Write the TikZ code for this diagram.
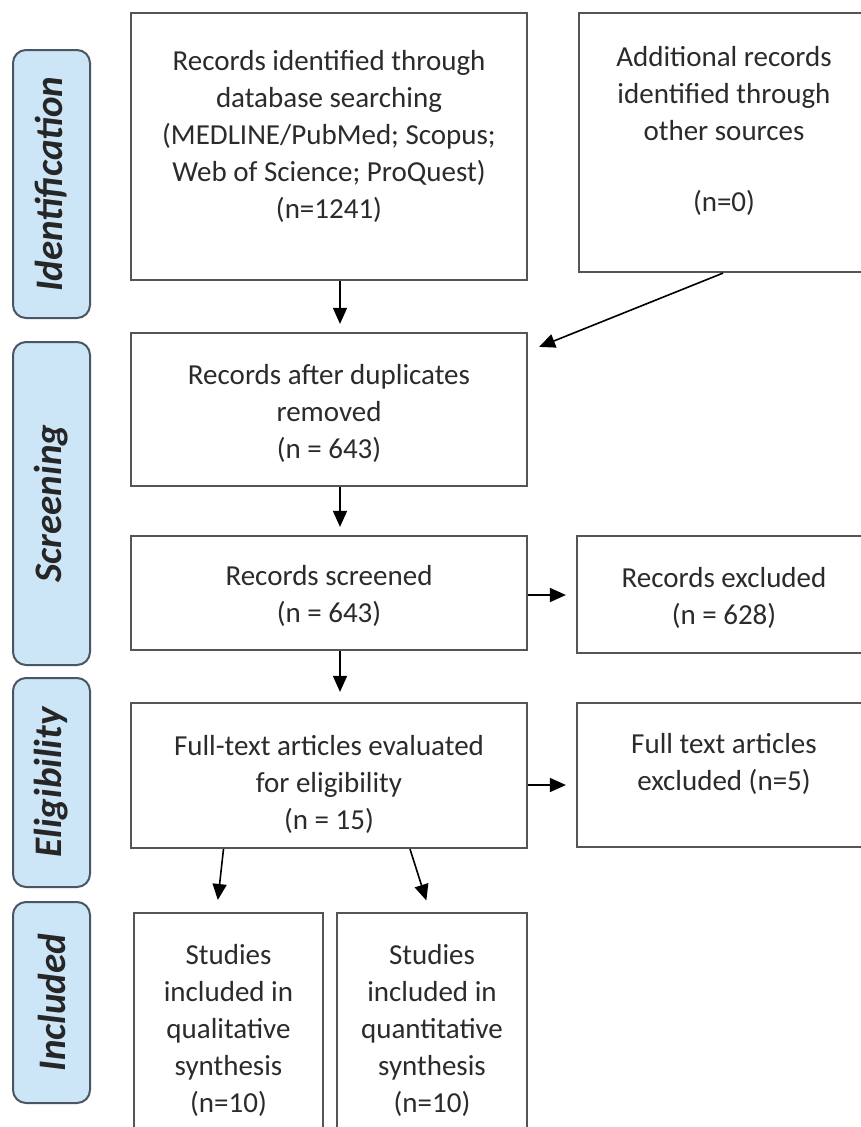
\documentclass[tikz,border=0pt]{standalone}
\usepackage{fontspec}
\setmainfont{Carlito}
\usetikzlibrary{arrows.meta}

\definecolor{boxgray}{HTML}{555555}
\definecolor{txtgray}{HTML}{2B2B2B}
\definecolor{phasefill}{HTML}{CDE6F7}
\definecolor{phaseline}{HTML}{4A5663}

\tikzset{
  box/.style={draw=boxgray, line width=2.2pt, rectangle, inner sep=0pt},
  txt/.style={align=center, text=txtgray, inner sep=0pt,
              font=\fontsize{29}{37}\selectfont},
  phase/.style={draw=phaseline, fill=phasefill, line width=2pt,
                rounded corners=13pt, inner sep=0pt, minimum width=77pt},
  phasetxt/.style={rotate=90, text=black!85,
                   font=\fontsize{39}{44}\selectfont\bfseries\itshape},
  arr/.style={-{Triangle[length=16pt,width=14pt]}, line width=1.6pt, black}
}

\begin{document}
\begin{tikzpicture}  % ------ PRISMA flow -------------------
      [x=1pt,y=-1pt]

    \clip (0,0) rectangle (861,1127);
    \fill[white] (0,0) rectangle (861,1127);

    % phases, left column
    \node[phase, minimum height=268pt] (Pid) at (51.5,184) {};
    \node[phase, minimum height=323pt] (Pscr) at (51.5,503.5) {};
    \node[phase, minimum height=209pt] (Pel) at (51.5,782.5) {};
    \node[phase, minimum height=201pt] (Pin) at (51.5,1002.5) {};
    \node[phasetxt] (Tid) at (Pid) {Identification};
    \node[phasetxt] (Tscr) at (Pscr) {Screening};
    \node[phasetxt] (Tel) at (Pel) {Eligibility};
    \node[phasetxt] (Tin) at (Pin) {Included};

    % boxes
    \node[box, minimum width=396pt, minimum height=267pt] (Rdb) at (329,146.5) {};
    \node[box, minimum width=311pt, minimum height=259pt] (Rot) at (734.5,142.5) {};
    \node[box, minimum width=396pt, minimum height=153pt] (Rdup) at (329,409.5) {};
    \node[box, minimum width=396pt, minimum height=114pt] (Rscr) at (329,593) {};
    \node[box, minimum width=313pt, minimum height=117pt] (Rexc) at (733.5,594.5) {};
    \node[box, minimum width=396pt, minimum height=145pt] (Rft) at (329,775.5) {};
    \node[box, minimum width=313pt, minimum height=144pt] (Rftx) at (733.5,775) {};
    \node[box, minimum width=189pt, minimum height=237pt] (Squal) at (228.5,1031.5) {};
    \node[box, minimum width=190pt, minimum height=237pt] (Squan) at (432,1031.5) {};

    % texts
    \node[txt] (Tdb) at (329,136) {Records identified through\\database searching\\(MEDLINE/PubMed; Scopus;\\Web of Science; ProQuest)\\(n=1241)};
    \node[txt] (Tot) at (724,131) {Additional records\\identified through\\other sources\\[34pt](n=0)};
    \node[txt] (Tdup) at (329,413) {Records after duplicates\\removed\\(n = 643)};
    \node[txt] (Tscr2) at (329,596) {Records screened\\(n = 643)};
    \node[txt] (Texc) at (724,598) {Records excluded\\(n = 628)};
    \node[txt] (Tft) at (329,784) {Full-text articles evaluated\\for eligibility\\(n = 15)};
    \node[txt] (Tftx) at (724,764) {Full text articles\\excluded (n=5)};
    \node[txt] (Tqual) at (228.5,1030) {Studies\\included in\\qualitative\\synthesis\\(n=10)};
    \node[txt] (Tquan) at (432,1030) {Studies\\included in\\quantitative\\synthesis\\(n=10)};

    % arrows
    \draw[arr, shorten >=8pt] ([xshift=11pt]Rdb.south) -- ([xshift=11pt]Rdup.north);
    \draw[arr] ([xshift=-11.5pt]Rot.south) -- ([xshift=11pt,yshift=-15pt]Rdup.north east);
    \draw[arr, shorten >=8pt] ([xshift=11pt]Rdup.south) -- ([xshift=11pt]Rscr.north);
    \draw[arr, shorten >=10pt] ([yshift=-2pt]Rscr.east) -- ([yshift=-2pt]Rscr.east -| Rexc.west);
    \draw[arr, shorten >=10pt] ([xshift=11pt]Rscr.south) -- ([xshift=11pt]Rft.north);
    \draw[arr, shorten >=10pt] ([yshift=-9.5pt]Rft.east) -- ([yshift=-9.5pt]Rft.east -| Rftx.west);
    \draw[arr, shorten >=12pt] ([xshift=-5pt]Rft.south -| Squal.north) -- ([xshift=-12pt]Squal.north);
    \draw[arr, shorten >=12pt] ([xshift=-22pt]Squan.north |- Rft.south) -- ([xshift=-2pt]Squan.north);
\end{tikzpicture}
\end{document}
